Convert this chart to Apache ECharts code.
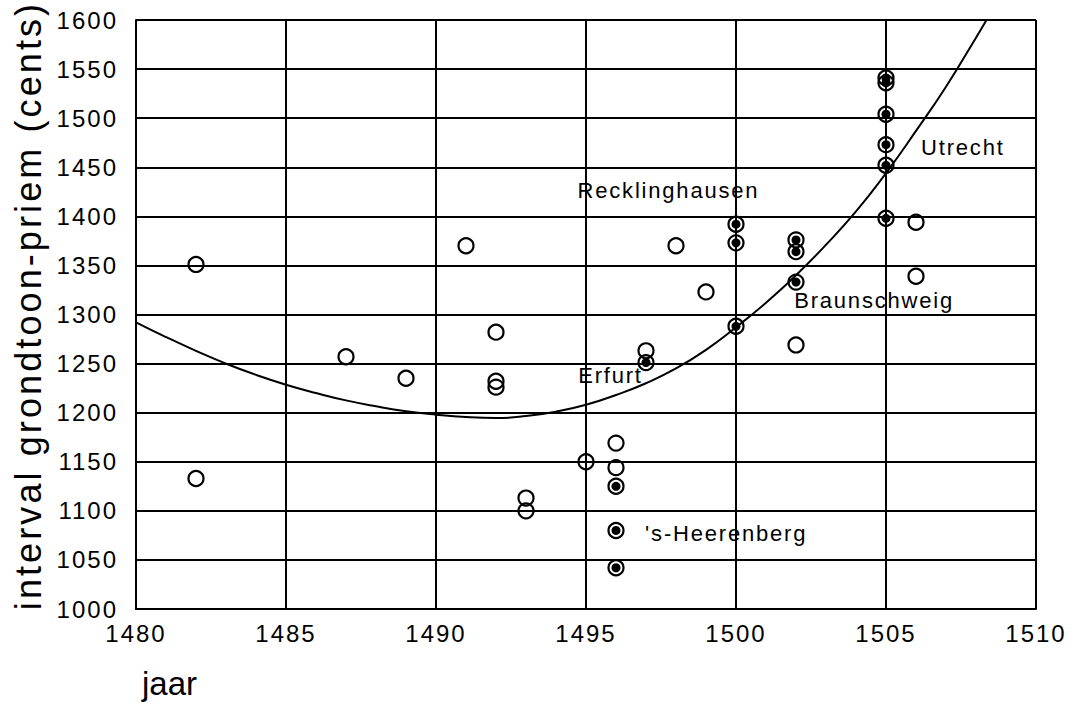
<!DOCTYPE html>
<html><head><meta charset="utf-8">
<script src="https://cdn.jsdelivr.net/npm/echarts@6/dist/echarts.min.js"></script>
<style>html,body{margin:0;padding:0;background:#fff}#c{width:1076px;height:706px}</style>
</head><body><div id="c"></div>
<script>
// open circles
const openYears  = [1482, 1482, 1487, 1489, 1491, 1492, 1492, 1492, 1493, 1493, 1495, 1496, 1496, 1497, 1498, 1499, 1502, 1506, 1506];
const openValues = [1351, 1133, 1257, 1235, 1370, 1282, 1232, 1226, 1113, 1100, 1150, 1169, 1144, 1263, 1370, 1323, 1269, 1394, 1339];
// circles with dot
const dotYears  = [1496, 1496, 1496, 1497, 1500, 1500, 1500, 1502, 1502, 1502, 1505, 1505, 1505, 1505, 1505, 1505];
const dotValues = [1125, 1080, 1042, 1251, 1392, 1373, 1288, 1376, 1364, 1333, 1541, 1536, 1504, 1473, 1452, 1398];
// fitted curve
const curveYears  = [1480, 1481, 1482, 1483, 1484, 1485, 1486, 1487, 1488, 1489, 1490, 1491, 1492, 1493, 1494, 1495, 1496, 1497, 1498, 1499, 1500, 1501, 1502, 1503, 1504, 1505, 1506, 1507, 1508, 1508.35];
const curveValues = [1292, 1277, 1263, 1250, 1238.5, 1228.5, 1220, 1212.5, 1206.5, 1201.5, 1198, 1195.5, 1194.5, 1196.5, 1201, 1208, 1218, 1230, 1245, 1264, 1287, 1312, 1340, 1371, 1405, 1444, 1487, 1532, 1582, 1600];
// annotations
const labelNames  = ['Recklinghausen', 'Utrecht', 'Braunschweig', 'Erfurt', "'s-Heerenberg"];
const labelYears  = [1494.72, 1506.17, 1501.94, 1494.74, 1496.97];
const labelValues = [1426, 1470, 1314, 1237.5, 1077];

const xTitle = 'jaar';
const yTitle = 'interval grondtoon-priem (cents)';

const zip = (a, b) => a.map((v, i) => [v, b[i]]);
const FONT = "'Liberation Sans', Arial, sans-serif";

const chart = echarts.init(document.getElementById('c'), null, {renderer: 'svg'});
chart.setOption({
  animation: false,
  backgroundColor: '#fff',
  textStyle: {fontFamily: FONT, color: '#000'},
  title: {text: xTitle, left: 137, top: 662,
    textStyle: {fontSize: 33, fontWeight: 'normal', color: '#000', fontFamily: FONT}},
  grid: {left: 136, right: 40, top: 20, bottom: 97},
  xAxis: {
    type: 'value', min: 1480, max: 1510, interval: 5,
    axisLine: {show: true, onZero: false, lineStyle: {color: '#000', width: 2}},
    axisTick: {show: false},
    splitLine: {show: true, lineStyle: {color: '#000', width: 2}},
    axisLabel: {fontSize: 24, color: '#000', margin: 12, fontFamily: FONT, formatter: v => String(v)}
  },
  yAxis: {
    type: 'value', min: 1000, max: 1600, interval: 50,
    name: yTitle, nameLocation: 'middle', nameGap: 90, nameRotate: 90,
    nameTextStyle: {fontSize: 36, color: '#000', fontFamily: FONT, padding: [0, 0, 0, 18]},
    axisLine: {show: true, onZero: false, lineStyle: {color: '#000', width: 2}},
    axisTick: {show: false},
    splitLine: {show: true, lineStyle: {color: '#000', width: 2}},
    axisLabel: {fontSize: 24, color: '#000', margin: 18, fontFamily: FONT, formatter: v => String(v)}
  },
  series: [
    {
      type: 'line', data: zip(curveYears, curveValues), smooth: 0.5, symbol: 'none',
      lineStyle: {color: '#000', width: 2}, clip: true, z: 3
    },
    {
      type: 'scatter', data: zip(openYears, openValues), symbol: 'circle', symbolSize: 15,
      itemStyle: {color: 'rgba(0,0,0,0)', borderColor: '#000', borderWidth: 2.2, opacity: 1}, z: 4
    },
    {
      type: 'scatter', data: zip(dotYears, dotValues), symbol: 'circle', symbolSize: 15,
      itemStyle: {color: 'rgba(0,0,0,0)', borderColor: '#000', borderWidth: 2.2, opacity: 1}, z: 4
    },
    {
      type: 'scatter', data: zip(dotYears, dotValues), symbol: 'circle', symbolSize: 9,
      itemStyle: {color: '#000', opacity: 1}, z: 5
    },
    {
      type: 'scatter', symbolSize: 0, z: 6, silent: true,
      data: labelNames.map((n, i) => ({name: n, value: [labelYears[i], labelValues[i]]})),
      label: {show: true, position: 'right', distance: 0, formatter: p => p.name,
        fontSize: 22, color: '#000', opacity: 1, textBorderWidth: 0, fontFamily: FONT}
    }
  ]
});

function applySpacing() {
  document.querySelectorAll('#c svg text').forEach(t => {
    const fs = parseFloat(getComputedStyle(t).fontSize);
    let ls = 0;
    if (fs >= 35) ls = 3.1;
    else if (fs >= 23 && fs < 26) ls = 2;
    else if (fs >= 21 && fs < 23) ls = 1.8;
    t.style.letterSpacing = ls + 'px';
  });
}
applySpacing();
chart.on('finished', applySpacing);
setTimeout(applySpacing, 50);
</script>
</body></html>
